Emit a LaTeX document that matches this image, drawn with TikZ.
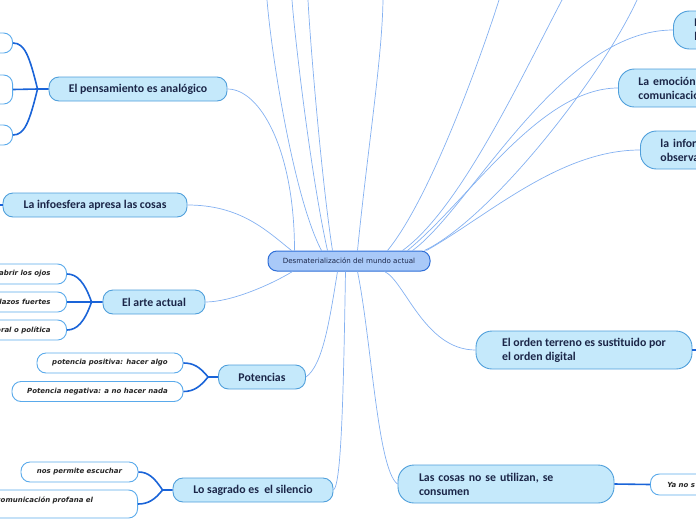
\documentclass[tikz,border=0pt]{standalone}
\usepackage{fontspec}
\usepackage{tikz}
\newfontfamily\carlito{Carlito}
\newfontfamily\dejavu{DejaVu Sans}
\definecolor{rootfill}{HTML}{A9C9F8}
\definecolor{rootline}{HTML}{2F6FD8}
\definecolor{topicfill}{HTML}{C5E9FB}
\definecolor{topicline}{HTML}{4F9FDB}
\definecolor{navy}{HTML}{1B2648}
\definecolor{leafline}{HTML}{5AAAEB}
\definecolor{leaftext}{HTML}{262626}
\definecolor{branchline}{HTML}{84B1F1}
\definecolor{twigline}{HTML}{1A64D8}
\newcommand{\rootfont}{\dejavu\fontsize{7.1}{8}\selectfont}
\newcommand{\topicfont}{\carlito\bfseries\fontsize{11.8}{14}\selectfont}
\newcommand{\leaffont}{\dejavu\bfseries\itshape\fontsize{7}{8}\selectfont}

\begin{document}
\begin{tikzpicture}[x=1pt, y=-1pt,
  root/.style={draw=rootline, fill=rootfill, line width=1pt, rounded corners=9pt,
    minimum width=162pt, minimum height=20pt, font=\rootfont, text=navy, inner sep=0pt},
  topic/.style={draw=topicline, fill=topicfill, line width=0.9pt, rounded corners=10pt,
    minimum height=24pt, font=\topicfont, text=navy, inner sep=0pt},
  topictwo/.style={topic, minimum height=38pt, rounded corners=16pt, align=left},
  leaf/.style={draw=leafline, fill=white, line width=0.9pt, rounded corners=9pt,
    minimum height=20pt, font=\leaffont, text=leaftext, inner ysep=0pt},
  branch/.style={draw=branchline, line width=0.7pt},
  twig/.style={draw=twigline, line width=1.6pt}]
  \useasboundingbox (0,0) rectangle (696,520);
  \clip (0,0) rectangle (696,520);

  % centre
  \node[root] (root) at (349,261) {Desmaterialización del mundo actual};

  % main topics
  \node[topic, minimum width=178pt] (pens) at (138,89) {El pensamiento es analógico};
  \node[topic, minimum width=184pt] (info) at (95,205) {La infoesfera apresa las cosas};
  \node[topic, minimum width=102pt] (arte) at (154,302) {El arte actual};
  \node[topic, minimum width=87pt] (pot) at (262,377) {Potencias};
  \node[topic, minimum width=160pt] (sagr) at (253,490) {Lo sagrado es\ \ el silencio};
  \node[topictwo, minimum width=216pt] (orden) at (584,350) {El orden terreno es sustituido por\\el orden digital};
  \node[topictwo, text width=174pt, inner xsep=21pt] (cosas) at (506,484) {Las cosas no se utilizan, se\\consumen};
  \node[topictwo, anchor=west, text width=60pt, inner xsep=21pt] (tl) at (673,30) {L\\l};
  \node[topictwo, anchor=west, text width=100pt, inner xsep=20pt] (emo) at (618,88) {La emoción\\comunicación};
  \node[topictwo, anchor=west, text width=100pt, inner xsep=20pt] (infor) at (640,150) {la infor\\observa};

  % leaves
  \node[leaf, anchor=east, minimum width=80pt] (pc1) at (13,43) {};
  \node[leaf, anchor=east, minimum width=80pt, minimum height=29pt] (pc2) at (13,89.5) {};
  \node[leaf, anchor=east, minimum width=80pt] (pc3) at (13,135) {};
  \node[leaf, anchor=east, inner xsep=16pt] (ac1) at (67,274) {abrir los ojos};
  \node[leaf, anchor=east, inner xsep=16pt] (ac2) at (67,302) {lazos fuertes};
  \node[leaf, anchor=east, inner xsep=16pt] (ac3) at (67,330) {oral o política};
  \node[leaf, minimum width=146pt] (pp1) at (110,363) {potencia positiva: hacer algo};
  \node[leaf, minimum width=171pt] (pp2) at (97.5,391.5) {Potencia negativa: a no hacer nada};
  \node[leaf, minimum width=117pt] (sc1) at (79.5,472) {nos permite escuchar};
  \node[leaf, anchor=east, text width=133pt, inner xsep=8pt, inner ysep=4pt,
    text height=8pt, text depth=12pt, align=left] (sc2) at (138,504) {comunicación profana el};
  \node[leaf, anchor=west, text width=50pt, inner xsep=17pt, minimum height=21pt,
    align=left] (ya) at (650,484.5) {Ya no s};

  % free ends at the border
  \coordinate (ta) at (267,0);
  \coordinate (tb) at (292,0);
  \coordinate (tc) at (308,0);
  \coordinate (td) at (383,0);
  \coordinate (te) at (499,0);
  \coordinate (tf) at (562,0);
  \coordinate (tg) at (637,0);
  \coordinate (il) at (-5,205);
  \coordinate (or) at (700,350);

  % branches from the centre, upwards
  \draw[branch] ([xshift=27pt]root.north west) .. controls +(0,-100) and +(33,0) .. (pens.east);
  \draw[branch] ([xshift=24pt]root.north west) .. controls +(-25,-20) and +(53,0) .. (info.east);
  \draw[branch] ([xshift=54pt]root.north west) .. controls +(-27,-51) and +(5,60) .. (ta);
  \draw[branch] ([xshift=60pt]root.north west) .. controls +(-16,-71) and +(3,40) .. (tb);
  \draw[branch] ([xshift=65pt]root.north west) .. controls +(-11,-71) and +(2,40) .. (tc);
  \draw[branch] ([xshift=90pt]root.north west) .. controls +(10,-101) and +(-1,60) .. (td);
  \draw[branch] ([xshift=120pt]root.north west) .. controls +(42,-51) and +(-19,60) .. (te);
  \draw[branch] ([xshift=135pt]root.north west) .. controls +(57,-41) and +(-42,80) .. (tf);
  \draw[branch] ([xshift=157pt]root.north west) .. controls +(65,-31) and +(-37,80) .. (tg);
  \draw[branch] ([xshift=145pt]root.north west) .. controls +(57,-41) and +(-113,0) .. (tl.west);
  \draw[branch] ([xshift=140pt]root.north west) .. controls +(62,-51) and +(-78,0) .. (emo.west);
  \draw[branch] ([xshift=159pt]root.north west) .. controls +(63,-36) and +(-80,0) .. (infor.west);

  % branches from the centre, downwards
  \draw[branch] ([xshift=25pt]root.south west) .. controls +(-23,14) and +(25,0) .. (arte.east);
  \draw[branch] ([xshift=70pt]root.south west) .. controls +(-8,49) and +(17,-12) .. (pot.east);
  \draw[branch] ([xshift=78pt]root.south west) .. controls +(-2,120) and +(8,-5) .. (sagr.east);
  \draw[branch] ([xshift=90pt]root.south west) .. controls +(14,69) and +(-20,-14) .. (cosas.west);
  \draw[branch] ([xshift=117pt]root.south west) .. controls +(20,9) and +(-51,0) .. (orden.west);

  % twigs to the leaves
  \coordinate (pj) at ([xshift=-11pt]pens.west);
  \draw[twig] (pens.west) -- (pj) .. controls +(-8,-32) and +(12,0) .. (pc1.east);
  \draw[twig] (pj) -- (pc2.east);
  \draw[twig] (pj) .. controls +(-8,32) and +(12,0) .. (pc3.east);
  \coordinate (aj) at ([xshift=-11pt]arte.west);
  \draw[twig] (arte.west) -- (aj) .. controls +(-7,-20) and +(10,0) .. (ac1.east);
  \draw[twig] (aj) -- (ac2.east);
  \draw[twig] (aj) .. controls +(-7,20) and +(10,0) .. (ac3.east);
  \coordinate (qj) at ([xshift=-10pt]pot.west);
  \draw[twig] (pot.west) -- (qj) .. controls +(-8,-10) and +(10,0) .. (pp1.east);
  \draw[twig] (qj) .. controls +(-8,10) and +(10,0) .. (pp2.east);
  \coordinate (sj) at ([xshift=-10pt]sagr.west);
  \draw[twig] (sagr.west) -- (sj) .. controls +(-8,-12) and +(10,0) .. (sc1.east);
  \draw[twig] (sj) .. controls +(-8,10) and +(10,0) .. (sc2.east);
  \draw[twig] (info.west) -- (il);
  \draw[twig] (orden.east) -- (or);
  \draw[twig] (cosas.east) -- (ya.west);
\end{tikzpicture}
\end{document}
